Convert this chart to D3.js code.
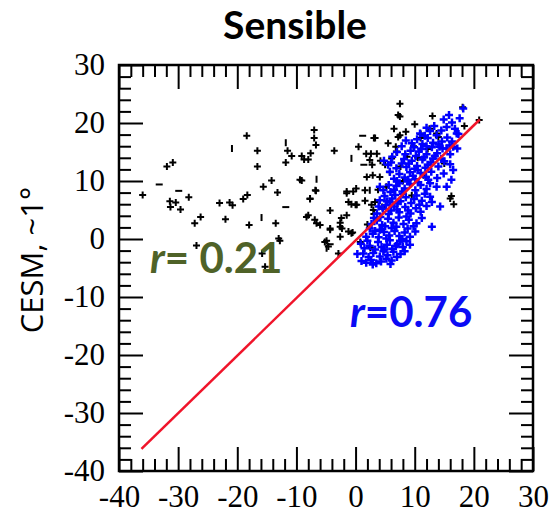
<!DOCTYPE html>
<html>
<head>
<meta charset="utf-8">
<script src="https://cdn.jsdelivr.net/npm/d3@7"></script>
<style>
  body { margin: 0; background: #fff; }
</style>
</head>
<body>
<script>
// chart values
var xDomain = [-40, 30];
var yDomain = [-40, 30];
var majorTicks = [-40, -30, -20, -10, 0, 10, 20, 30];

// black crosses (x, y)
var blackPts = [
  [-36.0, 7.6], [-31.9, 12.5], [-30.9, 13.2], [-31.4, 6.5], [-31.3, 5.5], [-30.4, 6.3],
  [-29.6, 5.1], [-28.2, 7.2], [-27.2, 2.7], [-26.2, 3.8], [-26.9, -1.1], [-23.0, 6.2],
  [-21.3, 6.3], [-20.8, 5.8], [-22.0, 3.4], [-18.4, 17.8], [-16.6, 15.2], [-16.6, 12.5],
  [-15.6, 9.0], [-14.2, 10.1], [-19.0, 6.9], [-18.3, 7.6], [-13.2, 8.0], [-18.0, 2.4],
  [-13.5, 2.7], [-13.0, 0.1], [-12.8, -0.3], [-15.8, -2.5], [-15.3, -4.8], [-11.5, 15.2],
  [-10.8, 14.3], [-11.8, 13.2], [-9.1, 14.3], [-8.7, 13.7], [-8.0, 13.7], [-7.6, 14.8],
  [-7.0, 18.8], [-7.0, 17.4], [-6.7, 16.2], [-3.6, 15.2], [-9.1, 10.1], [-6.7, 8.3],
  [-7.7, 6.9], [-8.0, 4.1], [-6.9, 3.3], [-6.6, 2.7], [-6.0, 2.4], [-4.3, 4.9],
  [-4.3, 1.8], [-2.6, 2.8], [-2.3, 1.8], [-4.9, -0.3], [-4.6, -1.3], [-1.5, 7.9],
  [-1.2, 6.4], [-1.5, 4.1], [-1.2, 1.3], [-2.4, 3.6], [-2.6, 2.1], [-0.7, 1.0],
  [-8.3, 3.8], [-7.7, 7.0], [-9.4, 10.2], [-6.8, 8.4], [-4.3, 1.6], [-2.6, 0.4],
  [-5.2, -0.5], [-2.9, -2.5], [-1.5, 8.2], [-0.4, 8.2], [0.0, 5.9],
  [7.5, 23.3], [7.2, 21.4], [7.5, 21.1], [13.0, 21.2], [18.1, 22.7], [20.9, 20.5],
  [18.4, 19.5], [3.1, 17.4], [0.5, 15.9], [1.8, 14.7], [2.6, 14.7], [3.6, 14.7],
  [2.4, 13.6], [2.8, 12.8], [1.9, 10.7], [2.9, 11.0], [4.1, 10.7], [0.1, 8.7], [1.6, 8.4],
  [-0.7, 6.0], [0.2, 5.9], [1.6, 6.6], [3.3, 6.4], [2.7, 5.9], [3.0, 5.0], [3.1, 4.3],
  [-0.5, 1.1], [0.8, -0.5], [7.2, 17.6], [11.0, 18.1], [11.0, 17.4], [6.8, 15.9],
  [6.9, 15.1], [14.0, 17.6], [13.7, 18.2], [6.1, 13.9], [8.7, 14.2], [5.0, 12.8],
  [16.2, 7.4], [16.6, 6.0], [16.0, 7.0], [7.5, 17.9], [3.3, 17.4],
  [5.5, 16.5], [8.5, 18.5], [9.8, 16.0], [5.8, 11.5], [7.6, 12.5], [10.5, 14.0],
  [12.2, 15.5], [3.8, 8.5], [5.2, 9.0], [8.0, 10.0], [4.2, 13.5], [6.5, 19.0],
  [10.0, 19.8], [12.5, 19.0], [2.0, 2.5], [4.5, 5.5], [9.5, 7.5], [11.5, 11.0],
  [15.0, 13.0], [2.5, -1.5]
];
// black points drawn as half marks
var blackDashH = [[-33.2, 9.4], [-29.9, 8.3], [-11.8, 5.5], [1.2, 17.8], [1.4, 12.8], [-4.3, -0.9]];
var blackDashV = [[-20.9, 15.6], [-15.9, 3.7], [-11.8, 16.6], [-6.6, 10.3], [-0.7, 13.9], [2.4, 8.4], [-4.9, -1.6]];

// blue crosses (x, y)
var bluePts = [
  [1.0, -3.8], [1.8, -4.1], [2.6, -3.6], [3.5, -4.2], [4.3, -3.9], [5.2, -3.4], [6.1, -3.7],
  [7.0, -3.1], [7.6, -2.6], [5.4, -2.8], [4.1, -3.0], [2.2, -3.1], [1.3, -2.5], [0.3, -2.6],
  [3.0, -2.4], [6.4, -2.2], [8.3, -2.1], [4.7, -2.1], [5.9, -4.3], [2.9, -4.4],
  [1.5, -1.6], [2.4, -1.2], [3.3, -1.8], [4.4, -1.4], [5.3, -1.0], [6.2, -1.7], [7.1, -0.9],
  [8.0, -1.4], [9.2, -1.0], [8.6, -0.4], [0.9, -0.8], [3.8, -0.5], [5.8, -0.2], [7.5, -0.3],
  [2.0, -0.3], [4.9, -1.8], [6.8, -1.2],
  [1.8, 0.4], [2.9, 0.9], [3.9, 0.3], [4.8, 1.2], [5.7, 0.6], [6.6, 1.4], [7.4, 0.5],
  [8.3, 1.1], [9.2, 0.4], [10.1, 1.3], [4.1, 1.6], [2.4, 1.8], [6.1, 1.9], [8.8, 1.8],
  [7.9, 0.0], [5.2, 0.1], [3.3, 1.4],
  [2.7, 2.6], [3.6, 3.2], [4.5, 2.4], [5.5, 3.5], [6.4, 2.8], [7.3, 3.7], [8.1, 2.6],
  [9.0, 3.3], [10.3, 2.7], [12.9, 2.1], [11.2, 3.6], [5.0, 2.2], [6.9, 2.1], [4.2, 3.8],
  [8.6, 3.9], [9.8, 2.2], [3.1, 3.6],
  [3.6, 4.4], [4.6, 5.2], [5.6, 4.3], [6.5, 5.6], [7.4, 4.6], [8.4, 5.5], [9.3, 4.4],
  [10.2, 5.3], [11.0, 4.7], [12.0, 5.7], [14.3, 5.6], [5.1, 5.8], [7.0, 5.1], [8.9, 4.9],
  [6.0, 4.9], [3.9, 5.6], [10.8, 5.9],
  [4.1, 6.7], [4.9, 7.4], [5.8, 6.3], [6.7, 7.6], [7.6, 6.5], [8.5, 7.2], [9.4, 6.2],
  [10.3, 7.5], [11.2, 6.6], [12.6, 7.3], [12.9, 6.4], [6.2, 7.0], [8.0, 7.8], [9.9, 6.9],
  [7.1, 6.1], [5.3, 6.5], [11.7, 7.8],
  [4.1, 9.0], [4.7, 8.4], [5.6, 9.3], [6.5, 8.5], [7.4, 9.6], [8.3, 8.7], [9.2, 9.5],
  [10.1, 8.4], [11.0, 9.3], [12.0, 8.6], [13.7, 9.0], [15.4, 9.0], [5.9, 8.1], [8.8, 9.9],
  [10.6, 9.8], [7.9, 8.2], [12.6, 9.6], [6.9, 9.2],
  [5.8, 11.6], [6.5, 10.4], [7.4, 11.2], [8.3, 10.6], [9.2, 11.5], [10.1, 10.3], [11.0, 11.4],
  [11.9, 10.7], [12.8, 11.6], [13.8, 10.5], [16.2, 10.2], [16.5, 11.9], [14.9, 11.3],
  [7.0, 10.0], [8.9, 10.2], [10.5, 11.9], [12.3, 10.2], [9.7, 10.9],
  [6.9, 12.2], [7.8, 13.0], [8.6, 12.4], [9.5, 13.5], [10.4, 12.6], [11.3, 13.7], [12.2, 12.8],
  [13.1, 13.9], [14.0, 12.5], [15.0, 13.4], [16.0, 12.9], [8.2, 13.8], [10.0, 12.1],
  [11.8, 12.3], [12.7, 13.2], [14.5, 13.8], [9.0, 13.0], [4.8, 13.5], [5.5, 12.8], [6.0, 13.2],
  [8.4, 14.6], [9.3, 15.2], [10.2, 14.3], [11.1, 15.5], [12.0, 14.6], [12.9, 15.8], [13.8, 14.8],
  [14.7, 15.6], [15.4, 15.6], [16.5, 15.9], [17.2, 15.6], [9.9, 15.8], [11.6, 14.1],
  [13.4, 14.3], [16.0, 14.6], [10.7, 15.1], [14.2, 15.9], [6.2, 14.2], [7.0, 15.0],
  [9.5, 16.5], [10.4, 17.2], [11.3, 16.4], [12.2, 17.4], [13.1, 16.6], [13.7, 17.9],
  [14.6, 16.8], [15.5, 17.5], [16.3, 16.8], [17.1, 18.2], [17.4, 18.1], [10.9, 18.2],
  [12.0, 16.0], [14.0, 16.3], [15.9, 16.1], [11.7, 17.8], [7.8, 16.0], [8.5, 17.0],
  [12.6, 18.6], [14.5, 18.7], [13.3, 19.5], [15.4, 19.3], [16.3, 20.1], [16.8, 19.0],
  [14.9, 20.6], [17.6, 20.8], [18.2, 22.5], [12.0, 19.2], [15.8, 21.4]
];

// red 1:1 line
var redLine = [[-36.2, -36.2], [21.0, 20.6]];

var labelLeft = "r= 0.21";
var labelRight = "r=0.76";

var W = 554, H = 513;
var svg = d3.select("body").append("svg")
    .attr("width", W)
    .attr("height", H);

var plot = { left: 119, top: 65, right: 533, bottom: 471 };

var x = d3.scaleLinear().domain(xDomain).range([plot.left, plot.right]);
var y = d3.scaleLinear().domain(yDomain).range([plot.bottom, plot.top]);

var minorTicks = d3.range(-40, 31, 2).filter(function(v) { return v % 10 !== 0; });
var tickFont = "'Liberation Serif', 'DejaVu Serif', serif";
var fmt = function(v) { return String(v); };   // plain hyphen minus, like the original

function styleAxis(g) {
    g.select(".domain").remove();
    g.selectAll(".tick line").attr("stroke", "#000").attr("stroke-width", 2);
    g.selectAll("text").attr("font-family", tickFont).attr("font-size", 31).attr("fill", "#000");
}

// bottom
svg.append("g").attr("transform", "translate(0," + plot.bottom + ")")
    .call(d3.axisBottom(x).tickValues(majorTicks).tickSize(-24).tickPadding(14).tickFormat(fmt))
    .call(styleAxis);
svg.append("g").attr("transform", "translate(0," + plot.bottom + ")")
    .call(d3.axisBottom(x).tickValues(minorTicks).tickSize(-12).tickFormat(""))
    .call(styleAxis);
// top
svg.append("g").attr("transform", "translate(0," + plot.top + ")")
    .call(d3.axisTop(x).tickValues(majorTicks).tickSize(-24).tickFormat(""))
    .call(styleAxis);
svg.append("g").attr("transform", "translate(0," + plot.top + ")")
    .call(d3.axisTop(x).tickValues(minorTicks).tickSize(-12).tickFormat(""))
    .call(styleAxis);
// left
svg.append("g").attr("transform", "translate(" + plot.left + ",0)")
    .call(d3.axisLeft(y).tickValues(majorTicks).tickSize(-24).tickPadding(14).tickFormat(fmt))
    .call(styleAxis);
svg.append("g").attr("transform", "translate(" + plot.left + ",0)")
    .call(d3.axisLeft(y).tickValues(minorTicks).tickSize(-12).tickFormat(""))
    .call(styleAxis);
// right
svg.append("g").attr("transform", "translate(" + plot.right + ",0)")
    .call(d3.axisRight(y).tickValues(majorTicks).tickSize(-24).tickFormat(""))
    .call(styleAxis);
svg.append("g").attr("transform", "translate(" + plot.right + ",0)")
    .call(d3.axisRight(y).tickValues(minorTicks).tickSize(-12).tickFormat(""))
    .call(styleAxis);

// frame
svg.append("rect")
    .attr("x", plot.left).attr("y", plot.top)
    .attr("width", plot.right - plot.left).attr("height", plot.bottom - plot.top)
    .attr("fill", "none").attr("stroke", "#000").attr("stroke-width", 2.5);

function cross(sel, data, color, arm, sw) {
    return sel.selectAll(null).data(data).enter().append("path")
        .attr("d", function(d) {
            var cx = x(d[0]), cy = y(d[1]);
            return "M" + (cx - arm) + "," + cy + "H" + (cx + arm) + "M" + cx + "," + (cy - arm) + "V" + (cy + arm);
        })
        .attr("stroke", color).attr("stroke-width", sw).attr("fill", "none");
}

var pts = svg.append("g");
cross(pts, blackPts, "#000", 3.5, 2);
pts.selectAll(null).data(blackDashH).enter().append("path")
    .attr("d", function(d) { return "M" + (x(d[0]) - 3.5) + "," + y(d[1]) + "h7"; })
    .attr("stroke", "#000").attr("stroke-width", 2);
pts.selectAll(null).data(blackDashV).enter().append("path")
    .attr("d", function(d) { return "M" + x(d[0]) + "," + (y(d[1]) - 3.5) + "v7"; })
    .attr("stroke", "#000").attr("stroke-width", 2);

cross(svg.append("g"), bluePts, "#0000ff", 4, 2.5);

svg.append("path")
    .datum(redLine)
    .attr("d", d3.line().x(function(d) { return x(d[0]); }).y(function(d) { return y(d[1]); }))
    .attr("stroke", "#f0142a").attr("stroke-width", 2.5).attr("fill", "none");

// title
svg.append("text")
    .attr("x", 295).attr("y", 39)
    .attr("text-anchor", "middle")
    .attr("font-family", "Lato, 'Open Sans', sans-serif")
    .attr("font-weight", "bold").attr("font-size", 39)
    .text("Sensible");

// y axis title
svg.append("text")
    .attr("transform", "translate(43,260) rotate(-90)")
    .attr("text-anchor", "middle")
    .attr("font-family", "'Open Sans', sans-serif")
    .attr("font-size", 31)
    .text("CESM, ~1°");

function rLabel(txt, px, py, color) {
    var t = svg.append("text")
        .attr("x", px).attr("y", py)
        .attr("font-family", "Lato, 'Open Sans', sans-serif")
        .attr("font-weight", "bold").attr("font-size", 42)
        .attr("fill", color);
    t.append("tspan").attr("font-style", "italic").text(txt.slice(0, 1));
    t.append("tspan").text(txt.slice(1));
}
rLabel(labelLeft, 150, 273, "#4f6228");
rLabel(labelRight, 350, 327, "#0a0af5");
</script>
</body>
</html>
